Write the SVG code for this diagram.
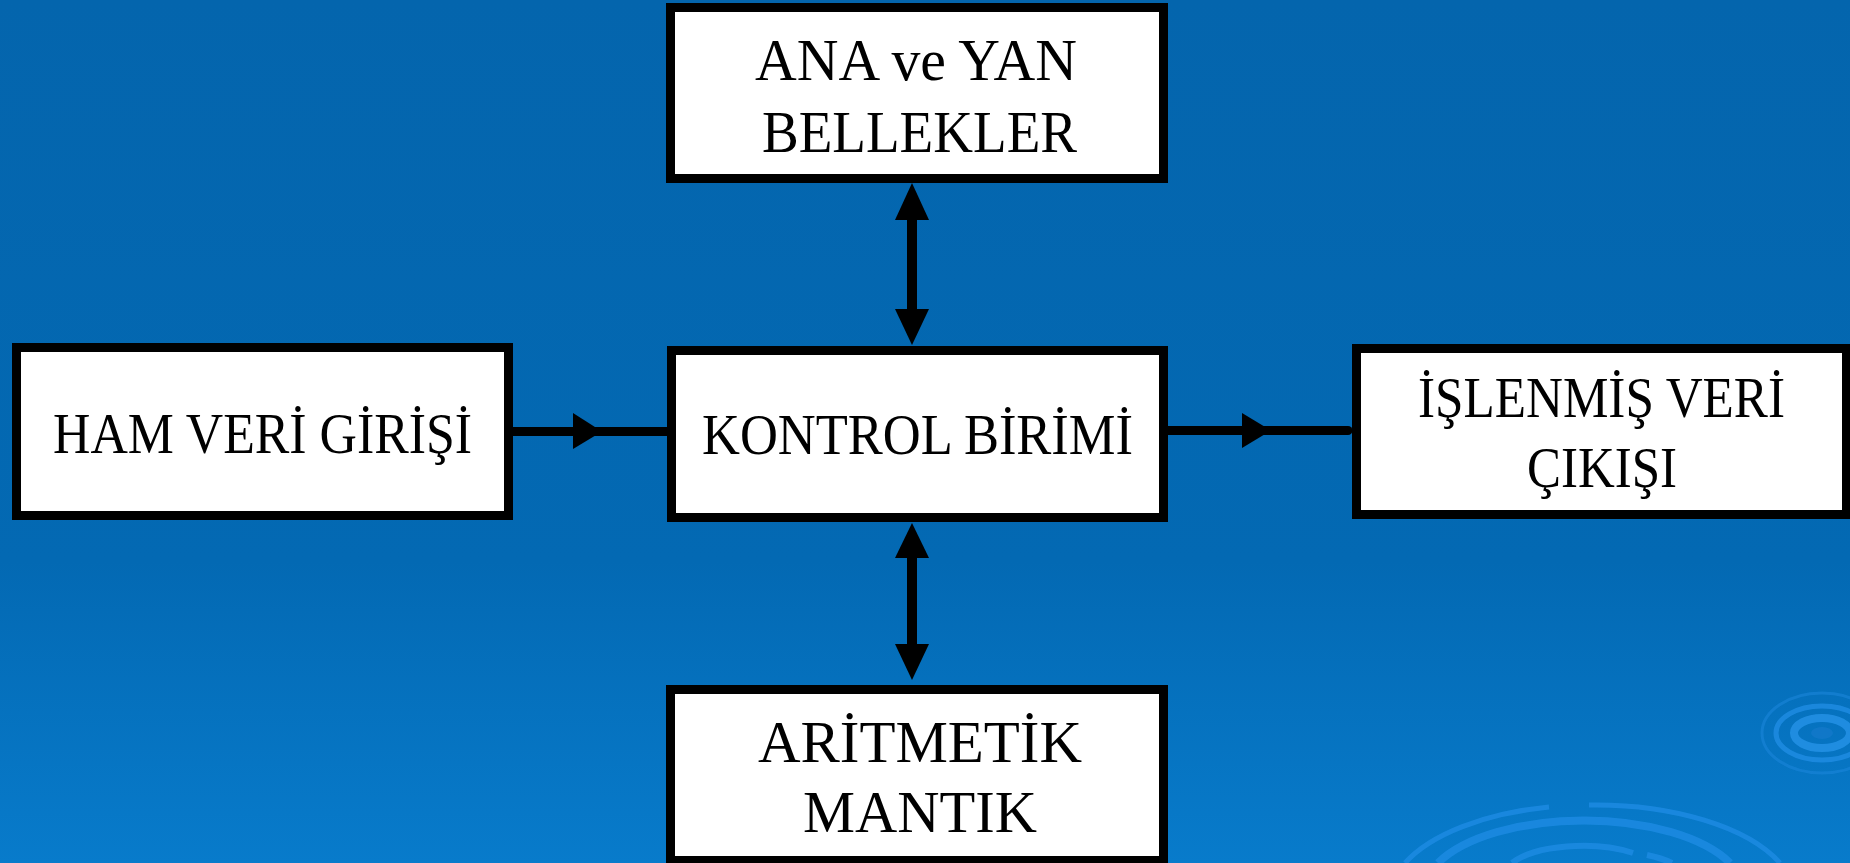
<svg xmlns="http://www.w3.org/2000/svg" width="1850" height="863" viewBox="0 0 1850 863">
  <defs>
    <linearGradient id="bg" x1="0" y1="0" x2="0" y2="1">
      <stop offset="0" stop-color="#0465ad"/>
      <stop offset="0.65" stop-color="#0369b3"/>
      <stop offset="1" stop-color="#087bcb"/>
    </linearGradient>
    <radialGradient id="rip" cx="0.5" cy="0.5" r="0.5">
      <stop offset="0" stop-color="#2a96ea" stop-opacity="0.9"/>
      <stop offset="1" stop-color="#1580d4" stop-opacity="0.2"/>
    </radialGradient>
  </defs>
  <style>
    .box { fill: #ffffff; stroke: #000000; stroke-width: 9; }
    .lbl { font-family: "Liberation Serif", "Times New Roman", serif; fill: #000000; text-anchor: middle; }
    .big { font-size: 60px; }
    .mid { font-size: 56px; }
    .wire { stroke: #000000; stroke-width: 9; fill: none; }
    .vwire { stroke: #000000; stroke-width: 10; fill: none; }
    .head { fill: #000000; }
    .ring { fill: none; stroke: #1d8be2; }
  </style>

  <rect x="0" y="0" width="1850" height="863" fill="url(#bg)"/>

  <!-- decorative ripples -->
  <g id="ripples" opacity="0.85">
    <path class="ring" stroke-width="5" d="M1405,863 A200,95 0 0 1 1549,807"/>
    <path class="ring" stroke-width="5" d="M1589,805 A200,95 0 0 1 1780,863"/>
    <path class="ring" stroke-width="8" d="M1438,863 A160,72 0 0 1 1730,863"/>
    <path class="ring" stroke-width="6" d="M1512,863 A80,32 0 0 1 1633,853"/>
    <path class="ring" stroke-width="6" d="M1647,855 A80,32 0 0 1 1672,863"/>
    <ellipse cx="1822" cy="733" rx="60" ry="40" fill="none" stroke="#1b86da" stroke-width="3" opacity="0.7"/>
    <ellipse cx="1822" cy="733" rx="46" ry="27" fill="none" stroke="#1f8ce2" stroke-width="5"/>
    <ellipse cx="1822" cy="733" rx="28" ry="15" fill="none" stroke="#2592e6" stroke-width="8"/>
    <ellipse cx="1822" cy="733" rx="11" ry="6" fill="#1379c9"/>
  </g>

  <g id="connectors">
    <line class="wire" x1="513" y1="431.5" x2="667" y2="431.5"/>
    <polygon class="head" points="573,413 602,431.5 573,449"/>
    <line class="wire" x1="1168" y1="430.5" x2="1348" y2="430.5" stroke-linecap="round"/>
    <polygon class="head" points="1242,413 1271,430.5 1242,448"/>
    <line class="vwire" x1="912" y1="210" x2="912" y2="320"/>
    <polygon class="head" points="912,183 895,220 929,220"/>
    <polygon class="head" points="895,309 929,309 912,345"/>
    <line class="vwire" x1="912" y1="550" x2="912" y2="655"/>
    <polygon class="head" points="912,523 895,558 929,558"/>
    <polygon class="head" points="895,644 929,644 912,680"/>
  </g>

  <g id="node-bellekler">
    <rect class="box" x="670.5" y="7.5" width="493" height="171"/>
    <text class="lbl big" x="916" y="80" textLength="322" lengthAdjust="spacingAndGlyphs">ANA ve YAN</text>
    <text class="lbl big" x="919.5" y="152" textLength="315" lengthAdjust="spacingAndGlyphs">BELLEKLER</text>
  </g>

  <g id="node-ham-veri">
    <rect class="box" x="16.5" y="347.5" width="492" height="168"/>
    <text class="lbl mid" x="262.5" y="453" textLength="419" lengthAdjust="spacingAndGlyphs">HAM VERİ GİRİŞİ</text>
  </g>

  <g id="node-kontrol">
    <rect class="box" x="671.5" y="350.5" width="492" height="167"/>
    <text class="lbl mid" x="917.5" y="454" textLength="431" lengthAdjust="spacingAndGlyphs">KONTROL BİRİMİ</text>
  </g>

  <g id="node-islenmis">
    <rect class="box" x="1356.5" y="348.5" width="490" height="166"/>
    <text class="lbl mid" x="1601.5" y="417" textLength="367" lengthAdjust="spacingAndGlyphs">İŞLENMİŞ VERİ</text>
    <text class="lbl mid" x="1602" y="487" textLength="150" lengthAdjust="spacingAndGlyphs">ÇIKIŞI</text>
  </g>

  <g id="node-aritmetik">
    <rect class="box" x="670.5" y="689.5" width="493" height="171"/>
    <text class="lbl big" x="920" y="762" textLength="324" lengthAdjust="spacingAndGlyphs">ARİTMETİK</text>
    <text class="lbl big" x="920" y="832" textLength="234" lengthAdjust="spacingAndGlyphs">MANTIK</text>
  </g>
</svg>
